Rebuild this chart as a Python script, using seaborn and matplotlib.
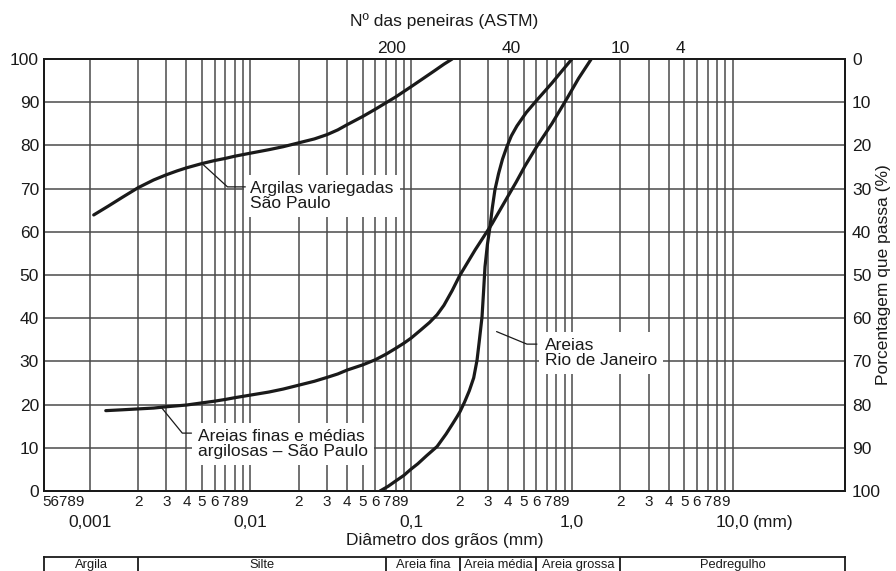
import numpy as np
import pandas as pd
import matplotlib
matplotlib.use('Agg')
import matplotlib.pyplot as plt
import seaborn as sns
from matplotlib.ticker import FixedLocator, FixedFormatter

sns.set_theme(style='white')
plt.rcParams['font.family'] = ['Liberation Sans', 'DejaVu Sans']

# ---- data ----
argila_d = [0.00106, 0.0013, 0.0016, 0.002, 0.0025, 0.003, 0.0035, 0.004, 0.005, 0.006,
            0.007, 0.008, 0.01, 0.013, 0.016, 0.02, 0.025, 0.03, 0.035, 0.04, 0.05,
            0.06, 0.07, 0.08, 0.1, 0.12, 0.14, 0.16, 0.18]
argila_p = [63.9, 65.9, 68.0, 70.2, 72.0, 73.2, 74.1, 74.8, 75.8, 76.5,
            77.0, 77.5, 78.2, 79.0, 79.7, 80.6, 81.5, 82.5, 83.6, 84.8, 86.7,
            88.4, 89.9, 91.2, 93.6, 95.6, 97.3, 98.8, 100.0]

areias_sp_d = [0.00126, 0.0016, 0.002, 0.0025, 0.003, 0.004, 0.005, 0.006, 0.007, 0.008,
               0.01, 0.013, 0.016, 0.02, 0.025, 0.03, 0.035, 0.04, 0.05, 0.06, 0.07,
               0.08, 0.09, 0.1, 0.115, 0.13, 0.145, 0.16, 0.18, 0.2, 0.25, 0.318,
               0.394, 0.45, 0.51, 0.606, 0.75, 0.93, 1.1, 1.32]
areias_sp_p = [18.6, 18.8, 19.0, 19.2, 19.5, 19.9, 20.4, 20.8, 21.2, 21.6,
               22.2, 22.9, 23.6, 24.5, 25.4, 26.3, 27.1, 28.0, 29.2, 30.4, 31.7,
               33.0, 34.2, 35.4, 37.3, 39.0, 40.8, 43.0, 46.4, 49.8, 55.8, 61.8,
               67.8, 71.5, 75.2, 79.8, 85.0, 90.8, 95.5, 100.0]

areias_rj_d = [0.064, 0.072, 0.08, 0.09, 0.0986, 0.11, 0.125, 0.145, 0.165, 0.18, 0.193,
               0.2016, 0.215, 0.23, 0.245, 0.257, 0.265, 0.276, 0.282, 0.288, 0.298,
               0.31, 0.32, 0.332, 0.35, 0.37, 0.394, 0.42, 0.455, 0.52, 0.606, 0.68,
               0.75, 0.87, 1.0]
areias_rj_p = [0.0, 1.1, 2.3, 3.6, 4.9, 6.3, 8.2, 10.3, 13.2, 15.4, 17.2,
               18.4, 20.6, 23.2, 26.2, 30.3, 34.5, 40.3, 46.0, 51.9, 57.0,
               61.4, 65.6, 69.7, 73.5, 76.8, 79.7, 82.2, 84.5, 87.6, 90.5, 92.6,
               94.4, 97.3, 100.0]

series_names = ['Argilas variegadas', 'Areias finas e médias', 'Areias RJ']

sieve_numbers = ['200', '40', '10', '4']
sieve_sizes = [0.075, 0.42, 2.0, 4.76]
pct_ticks = list(range(0, 101, 10))
decade_vals = [0.001, 0.01, 0.1, 1.0, 10.0]
decade_labels = ['0,001', '0,01', '0,1', '1,0', '10,0']
minor_digits = [2, 3, 4, 5, 6, 7, 8, 9]
left_digits = '56789'
classes = ['Argila', 'Silte', 'Areia fina', 'Areia média', 'Areia grossa', 'Pedregulho']
class_bounds = [0.00052, 0.002, 0.07, 0.2, 0.6, 2.0, 50]

df = pd.concat([
    pd.DataFrame({'d': argila_d, 'p': argila_p, 'serie': series_names[0]}),
    pd.DataFrame({'d': areias_sp_d, 'p': areias_sp_p, 'serie': series_names[1]}),
    pd.DataFrame({'d': areias_rj_d, 'p': areias_rj_p, 'serie': series_names[2]}),
], ignore_index=True)

XLIM = (0.00052, 50)
FS = 12.5
FS_MIN = 11
INK = '#1a1a1a'
GRID = '#4a4a4a'

fig = plt.figure(figsize=(8.96, 5.71), dpi=100)
ax = fig.add_axes([44/896, 1-491/571, 801/896, 432/571])
ax.set_xscale('log')
ax.set_xlim(*XLIM)
ax.set_ylim(0, 100)

minor_pos = [k*10.0**n for n in range(-3, 1) for k in minor_digits]
ax.xaxis.set_major_locator(FixedLocator(decade_vals))
ax.xaxis.set_major_formatter(FixedFormatter(decade_labels))
ax.xaxis.set_minor_locator(FixedLocator(minor_pos))
ax.xaxis.set_minor_formatter(FixedFormatter([str(k) for n in range(-3, 1) for k in minor_digits]))
ax.tick_params(axis='x', which='major', length=0, pad=17, labelsize=FS, colors=INK)
ax.tick_params(axis='x', which='minor', length=0, pad=3, labelsize=FS_MIN, colors=INK)
ax.set_yticks(pct_ticks)
ax.tick_params(axis='y', length=0, pad=3.6, labelsize=FS, colors=INK)
ax.grid(True, which='both', axis='x', color=GRID, lw=1.1, zorder=1)
ax.grid(True, which='major', axis='y', color=GRID, lw=1.1, zorder=1)
ax.set_axisbelow(True)
for s in ax.spines.values():
    s.set_color(INK); s.set_linewidth(1.3)

sns.lineplot(data=df, x='d', y='p', hue='serie', units='serie', estimator=None,
             sort=False, palette={n: INK for n in series_names},
             lw=2.3, legend=False, ax=ax, zorder=4)
ax.set_xlabel('')
ax.set_ylabel('')

# extra digits on the left (below the first, unlabelled decade)
ax.annotate(left_digits, xy=(0, 0), xycoords='axes fraction',
            xytext=(-1.5, -3), textcoords='offset points',
            ha='left', va='top', fontsize=FS_MIN, color=INK)
ax.annotate('(mm)', xy=(10, 0), xycoords=('data', 'axes fraction'),
            xytext=(14.5, -17), textcoords='offset points',
            ha='left', va='top', fontsize=FS, color=INK)

# top axis (sieve numbers)
axt = ax.twiny()
axt.set_xscale('log')
axt.set_xlim(*XLIM)
axt.xaxis.set_major_locator(FixedLocator(sieve_sizes))
axt.xaxis.set_major_formatter(FixedFormatter(sieve_numbers))
axt.xaxis.set_minor_locator(FixedLocator([]))
axt.tick_params(axis='x', length=0, pad=2.5, labelsize=FS, colors=INK)
axt.grid(False)
for s in axt.spines.values():
    s.set_color(INK); s.set_linewidth(1.3)

# right axis (percentage)
axr = ax.twinx()
axr.set_ylim(100, 0)
axr.set_yticks(pct_ticks)
axr.tick_params(axis='y', length=0, pad=5, labelsize=FS, colors=INK)
axr.grid(False)
for s in axr.spines.values():
    s.set_color(INK); s.set_linewidth(1.3)

fig.text(444.5/896, 1-21/571, 'Nº das peneiras (ASTM)', ha='center', va='center',
         fontsize=FS, color=INK)
fig.text(444.5/896, 1-541/571, 'Diâmetro dos grãos (mm)', ha='center', va='center',
         fontsize=FS, color=INK)
fig.text(883/896, 1-275/571, 'Porcentagem que passa (%)', ha='center', va='center',
         rotation=90, fontsize=FS, color=INK)

# curve labels with leader lines
box = dict(fc='white', ec='none', boxstyle='square,pad=0.35')
labels = [
    ('Argilas variegadas\nSão Paulo', 0.0100, 68.3,
     [(0.005, 75.8), (0.0072, 70.4), (0.0093, 70.4)]),
    ('Areias finas e médias\nargilosas – São Paulo', 0.0047, 10.9,
     [(0.0028, 19.3), (0.00377, 13.4), (0.0043, 13.4)]),
    ('Areias\nRio de Janeiro', 0.68, 31.9,
     [(0.34, 36.9), (0.525, 34.0), (0.606, 34.0)]),
]
for txt, tx, ty, leader in labels:
    ax.text(tx, ty, txt, ha='left', va='center', fontsize=FS, linespacing=1.0,
            color=INK, bbox=box, zorder=3)
    lx, ly = zip(*leader)
    ax.plot(lx, ly, color=INK, lw=0.9, zorder=4)

# classification strip
tab = fig.add_axes([44/896, -0.06, 801/896, 0.06 + 1 - 557/571])
tab.set_xscale('log')
tab.set_xlim(*XLIM)
tab.set_ylim(0, 1)
tab.set_xticks([]); tab.set_yticks([])
tab.minorticks_off()
tab.grid(False)
for s in tab.spines.values():
    s.set_color(INK); s.set_linewidth(1.3)
for b in class_bounds[1:-1]:
    tab.axvline(b, color=INK, lw=1.3)
for name, a, b in zip(classes, class_bounds[:-1], class_bounds[1:]):
    tab.text(np.sqrt(a*b), 0.83, name, ha='center', va='center', fontsize=9.3,
             color=INK)

fig.savefig('out.png', dpi=100)
